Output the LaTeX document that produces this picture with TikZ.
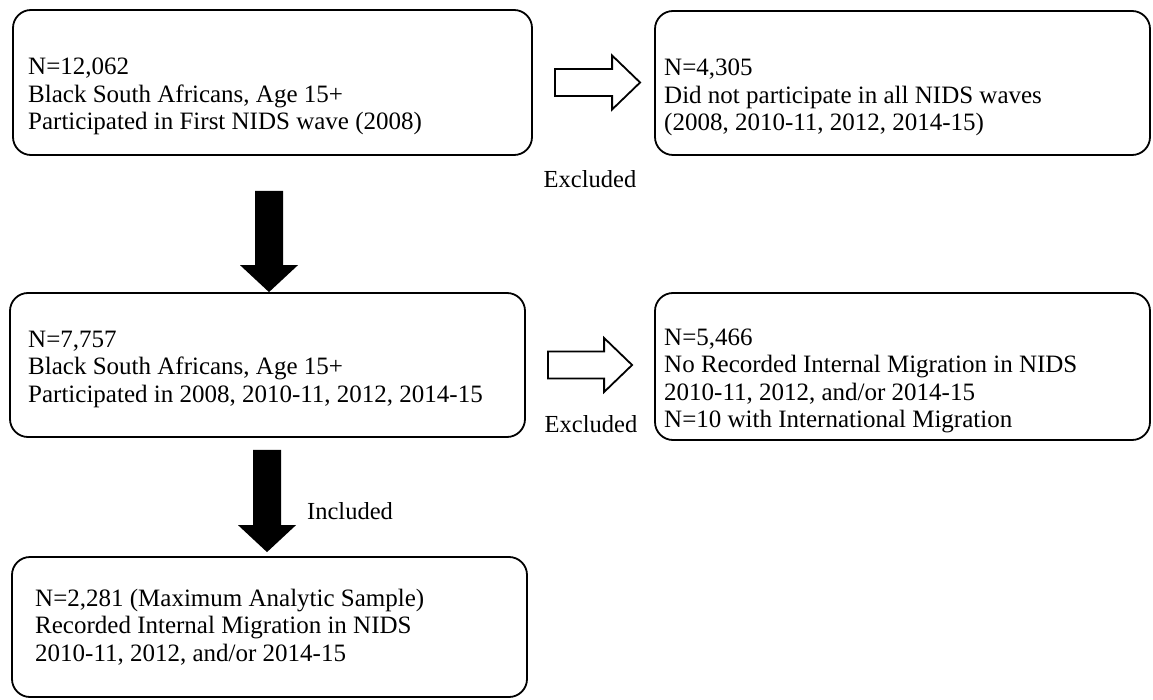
\documentclass[tikz,border=0pt]{standalone}
\usepackage{fontspec}
\setmainfont{Liberation Serif}
\usetikzlibrary{calc}
\begin{document}
\begin{tikzpicture}[x=1pt,y=-1pt,
  box/.style={draw=black, line width=1.8pt, rounded corners=18pt, inner sep=0pt},
  txt/.style={anchor=north west, inner sep=0pt, align=left, font=\fontsize{25pt}{27.5pt}\selectfont},
  lbl/.style={inner sep=0pt, font=\fontsize{24.5pt}{27pt}\selectfont},
  hollow/.style={draw=black, fill=white, line width=1.8pt, line join=miter},
  solid/.style={fill=black}]
\useasboundingbox (0,0) rectangle (1153,700);

% boxes
\node[box, minimum width=519pt, minimum height=145pt] (b1) at (272.5,82.5) {};
\node[box, minimum width=495pt, minimum height=144pt] (b2) at (902.5,83) {};
\node[box, minimum width=515pt, minimum height=144pt] (b3) at (267.5,365) {};
\node[box, minimum width=495pt, minimum height=147pt] (b4) at (902.5,366.5) {};
\node[box, minimum width=515pt, minimum height=140pt] (b5) at (269.5,627) {};

% texts
\node[txt] (t1) at (28,58) {N=12,062\\Black South Africans, Age 15+\\Participated in First NIDS wave (2008)};
\node[txt] (t2) at (664,59) {N=4,305\\Did not participate in all NIDS waves\\(2008, 2010-11, 2012, 2014-15)};
\node[txt] (t3) at (28,330.5) {N=7,757\\Black South Africans, Age 15+\\Participated in 2008, 2010-11, 2012, 2014-15};
\node[txt] (t4) at (664,328.5) {N=5,466\\No Recorded Internal Migration in NIDS\\2010-11, 2012, and/or 2014-15\\N=10 with International Migration};
\node[txt] (t5) at (35,588.5) {N=2,281 (Maximum Analytic Sample)\\Recorded Internal Migration in NIDS\\2010-11, 2012, and/or 2014-15};

% labels
\node[lbl, anchor=base] (ex1) at (590,188) {Excluded};
\node[lbl, anchor=base] (ex2) at (591,432) {Excluded};
\node[lbl, anchor=base west] (inc) at (307,519) {Included};

% hollow right arrows
\coordinate (a1s) at ($(b1.east)+(22,0)$);
\coordinate (a1e) at ($(b2.west |- b1.east)+(-14,0)$);
\draw[hollow] ($(a1s)+(0,-13.5)$) -- ($(a1e)+(-28,-13.5)$) -- ++(0,-13.5) -- (a1e) -- ++(-28,27) -- ++(0,-13.5) -- ($(a1s)+(0,13.5)$) -- cycle;

\coordinate (a2s) at ($(b3.east)+(22,0)$);
\coordinate (a2e) at ($(b4.west |- b3.east)+(-22,0)$);
\draw[hollow] ($(a2s)+(0,-13.5)$) -- ($(a2e)+(-28,-13.5)$) -- ++(0,-13.5) -- (a2e) -- ++(-28,27) -- ++(0,-13.5) -- ($(a2s)+(0,13.5)$) -- cycle;

% solid down arrows
\coordinate (d1s) at ($(b1.south)+(-3.5,35)$);
\coordinate (d1e) at (d1s |- b3.north);
\fill[solid] (d1e) -- ++(-29,-27) -- ++(15,0) -- ($(d1s)+(-14,0)$) -- ++(28,0) -- ($(d1e)+(14,-27)$) -- ++(15,0) -- cycle;

\coordinate (d2s) at ($(b3.south)+(-0.5,12)$);
\coordinate (d2e) at ($(d2s |- b5.north)+(0,-4)$);
\fill[solid] (d2e) -- ++(-29,-27) -- ++(15,0) -- ($(d2s)+(-14,0)$) -- ++(28,0) -- ($(d2e)+(14,-27)$) -- ++(15,0) -- cycle;
\end{tikzpicture}
\end{document}
